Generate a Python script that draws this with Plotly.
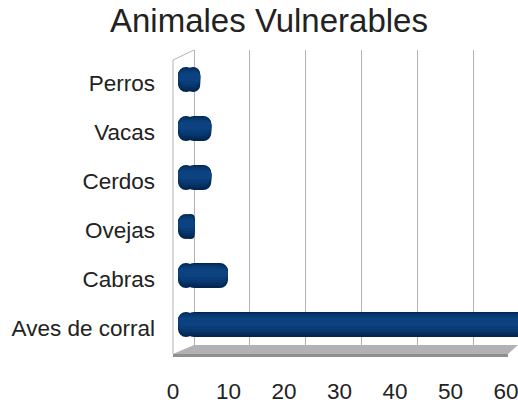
import plotly.graph_objects as go

# Data
animales = ["Perros", "Vacas", "Cerdos", "Ovejas", "Cabras", "Aves de corral"]
valores = [4, 6, 6, 3, 9, 72]
ticks_x = [0, 10, 20, 30, 40, 50, 60]

# Page and pseudo-3D frame geometry (pixels)
W, H = 518, 404
BACK_LEFT, FRONT_LEFT, BAR_ZERO = 194, 173, 178
BACK_TOP, FRONT_TOP = 50, 60
BACK_FLOOR, FRONT_FLOOR = 345, 357
FLOOR_RIGHT_BACK, FLOOR_RIGHT_FRONT = 518, 508
SCALE_BACK, SCALE_BAR = 5.58, 5.55          # px per unit
BAR_TOP, BAR_BOTTOM = 55, 349                # category band of the bars

FONT = "Liberation Sans"
TEXT = "#222222"
GRID = "#b3b3b3"
LABEL_SIZE = 22.5


def fx(p):
    return p / W


def fy(p):
    return 1 - p / H


n = len(animales)
CAP = 1.45      # length of the rounded left cap, in data units

fig = go.Figure()

# invisible trace so the back-wall grid subplot gets drawn
fig.add_trace(go.Scatter(x=[0], y=[0], xaxis="x", yaxis="y", mode="markers",
                         marker=dict(opacity=0), hoverinfo="skip", showlegend=False))


def cylinder_layer(color, width, center, radius):
    common = dict(y=animales, orientation="h", width=width, offset=center - width / 2,
                  xaxis="x2", yaxis="y2", showlegend=False, hoverinfo="skip")
    marker = dict(color=color, cornerradius=radius, line=dict(width=0))
    # rounded left end, overlapping the body so no seam shows
    fig.add_trace(go.Bar(x=[-2 * CAP] * n, base=[2 * CAP] * n, marker=marker, **common))
    # body with rounded right end, ending at the value
    fig.add_trace(go.Bar(x=[v - CAP for v in valores], base=[CAP] * n, marker=marker, **common))


# shaded cylinder, from the dark rim towards the lit band
for width, center, color, radius in [
    (0.51, 0.00, "#032650", 8),
    (0.45, -0.015, "#052f60", 8),
    (0.37, -0.03, "#07376d", 7),
    (0.28, -0.045, "#093d77", 6),
    (0.18, -0.055, "#0b427f", 4),
]:
    cylinder_layer(color, width, center, radius)

# floor and left wall of the frame
shapes = []
floor = (f"M {fx(FRONT_LEFT)},{fy(FRONT_FLOOR - 3)} L {fx(BACK_LEFT)},{fy(BACK_FLOOR)} "
         f"L {fx(FLOOR_RIGHT_BACK)},{fy(BACK_FLOOR)} L {fx(FLOOR_RIGHT_FRONT)},{fy(FRONT_FLOOR - 3)} Z")
shapes.append(dict(type="path", path=floor, xref="paper", yref="paper",
                   fillcolor="#b2b2b2", line=dict(width=0), layer="below"))
shapes.append(dict(type="rect", xref="paper", yref="paper",
                   x0=fx(FRONT_LEFT), x1=fx(FLOOR_RIGHT_FRONT),
                   y0=fy(FRONT_FLOOR), y1=fy(FRONT_FLOOR - 3),
                   fillcolor="#8f8f8f", line=dict(width=0), layer="below"))
shapes.append(dict(type="line", xref="paper", yref="paper",
                   x0=fx(FRONT_LEFT), y0=fy(FRONT_TOP), x1=fx(BACK_LEFT), y1=fy(BACK_TOP),
                   line=dict(color=GRID, width=1), layer="below"))
shapes.append(dict(type="line", xref="paper", yref="paper",
                   x0=fx(FRONT_LEFT), y0=fy(FRONT_TOP), x1=fx(FRONT_LEFT), y1=fy(FRONT_FLOOR - 3),
                   line=dict(color=GRID, width=1), layer="below"))

fig.update_layout(
    template="none",
    width=W, height=H,
    margin=dict(l=0, r=0, t=0, b=0, pad=0),
    paper_bgcolor="white", plot_bgcolor="rgba(0,0,0,0)",
    barmode="overlay",
    showlegend=False,
    font=dict(family=FONT, color=TEXT),
    xaxis=dict(domain=[fx(BACK_LEFT), 1], range=[0, (W - BACK_LEFT) / SCALE_BACK],
               anchor="y", tickvals=ticks_x, showgrid=True, gridcolor=GRID, gridwidth=1,
               zeroline=True, zerolinecolor=GRID, zerolinewidth=1, showline=False,
               ticks="", showticklabels=False, automargin=False),
    yaxis=dict(domain=[fy(BACK_FLOOR), fy(BACK_TOP)], range=[0, 1], anchor="x",
               visible=False, automargin=False),
    xaxis2=dict(domain=[fx(BAR_ZERO), 1], range=[0, (W - BAR_ZERO) / SCALE_BAR],
                anchor="y2", tickvals=ticks_x, showgrid=False, zeroline=False,
                showline=False, ticks="", ticklabelshift=-5, ticklabelstandoff=26,
                ticklabeloverflow="allow", automargin=False,
                tickfont=dict(size=LABEL_SIZE, family=FONT, color=TEXT)),
    yaxis2=dict(domain=[fy(BAR_BOTTOM), fy(BAR_TOP)], anchor="x2", type="category",
                categoryorder="array", categoryarray=animales, range=[n - 0.5, -0.5],
                showgrid=False, zeroline=False, showline=False, ticks="",
                ticklabelstandoff=22, ticklabelshift=-4, automargin=False,
                tickfont=dict(size=LABEL_SIZE, family=FONT, color=TEXT)),
    shapes=shapes,
    annotations=[dict(text="Animales Vulnerables", xref="paper", yref="paper",
                      x=268.5 / W, y=fy(20), xanchor="center", yanchor="middle",
                      showarrow=False, font=dict(family=FONT, size=33, color=TEXT))],
)

fig.write_html("out.html")
